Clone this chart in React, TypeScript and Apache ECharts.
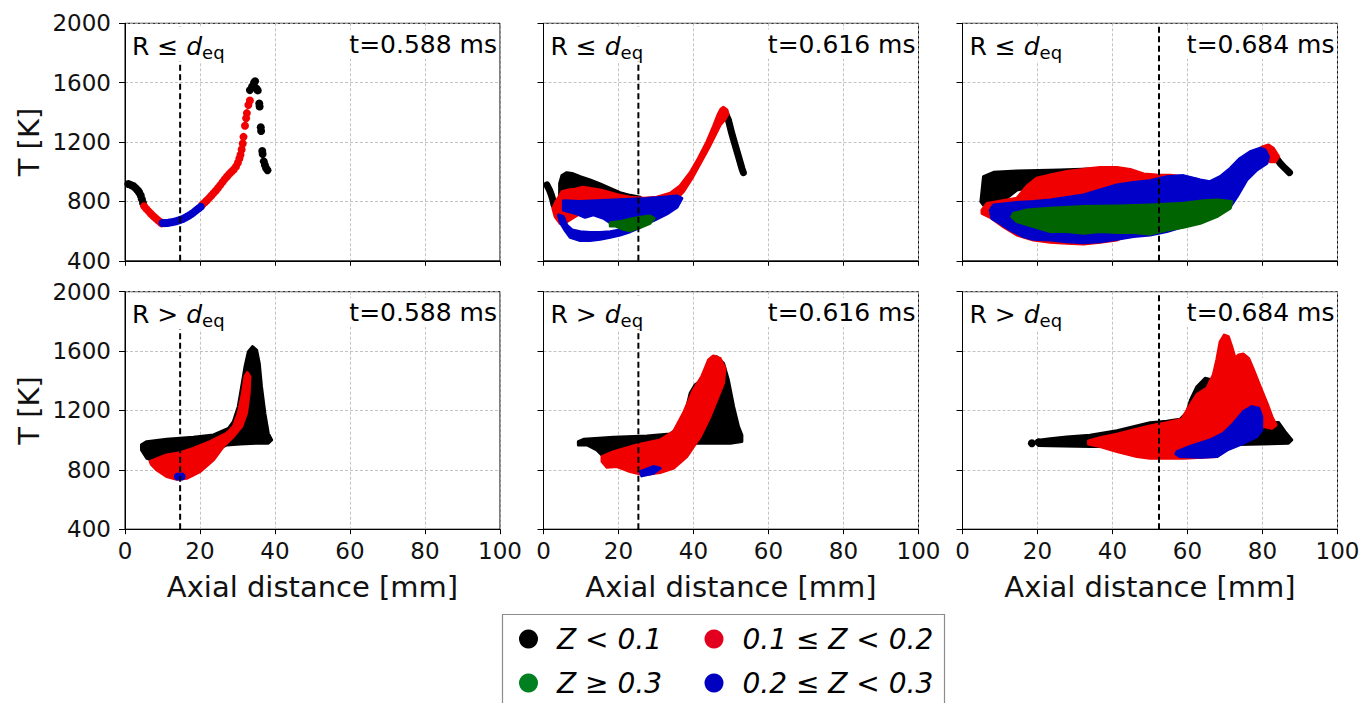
import React, { useEffect, useRef } from "react";
import * as echarts from "echarts";

// ---------- categories / colours ----------
const CATS = ["Z < 0.1", "0.1 ≤ Z < 0.2", "0.2 ≤ Z < 0.3", "Z ≥ 0.3"];
const PLOT_COLORS = ["#000000", "#f00000", "#0000c8", "#006400"];
const LEGEND_COLORS = ["#000000", "#e2001e", "#0000c0", "#008020"];
const LEGEND_COL1 = [0, 3];
const LEGEND_COL2 = [1, 2];

// ---------- panel labels ----------
const TIMES = ["t=0.588 ms", "t=0.616 ms", "t=0.684 ms"];
const REGIONS = ["≤", ">"];
const D_EQ = [14.7, 25.3, 52.4];

// ---------- axes ----------
const X_MIN = 0, X_MAX = 100, X_STEP = 20;
const Y_MIN = 400, Y_MAX = 2000, Y_STEP = 400;
const X_NAME = "Axial distance [mm]";
const Y_NAME = "T [K]";

// ---------- data: [axial distance mm, T K] ----------
// Panel 1: top-left (R ≤ deq, t=0.588 ms)
const P1_BLACK = [[0.9,917],[1.6,910],[2.2,904],[2.7,893],[3.1,882],[3.5,872],[3.8,860],[4.2,840],[4.5,815],[4.8,790],
  [33.3,1550],[33.9,1575],[34.4,1600],[34.7,1610],[35.1,1560],[35.4,1548],[35.8,1460],[35.9,1440],[36.2,1300],[36.3,1275],
  [36.6,1140],[36.7,1120],[37.0,1070],[37.3,1045],[37.6,1025],[38.0,1010]];
const P1_RED = [[5.1,768],[5.7,750],[6.3,733],[6.9,717],[7.5,702],[8.1,688],[8.7,675],[9.3,663],[9.8,652],
  [20.6,778],[21.2,792],[21.8,806],[22.4,822],[23.0,838],[23.6,855],[24.2,872],[24.8,890],[25.4,910],[26.0,930],[26.6,950],
  [27.2,968],[27.8,985],[28.4,1000],[29.0,1015],[29.6,1035],[30.1,1060],[30.5,1090],[30.8,1115],[31.1,1150],[31.4,1190],
  [31.6,1235],[32.0,1310],[32.3,1360],[32.5,1395],[32.9,1450],[33.3,1480]];
const P1_BLUE = [[10.0,655],[10.6,654],[11.2,655],[11.8,657],[12.4,660],[13.0,663],[13.6,667],[14.2,671],[14.8,676],[15.4,682],
  [16.0,690],[16.6,698],[17.2,707],[17.8,717],[18.4,728],[19.0,740],[19.6,752],[20.2,764]];

// Panel 2: top-middle (R ≤ deq, t=0.616 ms)
const P2_BLACK_AREA = [[4.3,922],[4.9,974],[6.2,994],[7.6,989],[9.8,967],[12.4,945],[15.1,918],[17.8,888],[20.4,859],[23.1,841],
  [25.8,828],[25.8,787],[14.2,776],[7.1,799],[4.9,810],[4.3,843]];
const P2_BLACK_LEFT = [[0.9,911],[1.6,877],[2.1,843],[2.5,810],[2.8,776]];
const P2_BLACK_TAIL = [[48.3,1405],[49.3,1349],[50.2,1259],[51.1,1180],[52.0,1102],[52.9,1023],[53.3,994]];
const P2_RED_AREA = [[4.9,866],[6.7,877],[8.4,882],[10.2,895],[12.4,888],[15.1,877],[17.8,859],[20.4,841],[23.1,828],[26.7,821],
  [30.2,828],[33.8,855],[36.4,904],[39.1,994],[41.3,1090],[43.6,1203],[45.3,1304],[46.5,1382],[47.3,1421],[48.0,1434],
  [48.9,1416],[49.2,1389],[48.4,1353],[47.1,1315],[45.8,1248],[44.0,1158],[41.8,1057],[39.6,956],[37.3,866],[35.6,821],
  [32.0,787],[23.1,754],[14.2,731],[9.8,720],[6.2,664],[4.4,653],[3.1,697],[2.5,754],[3.1,787],[4.4,843]];
const P2_BLUE_UPPER = [[5.3,805],[9.8,799],[14.2,805],[18.7,810],[23.1,814],[27.6,819],[32.0,828],[35.6,837],[36.9,821],[35.6,760],
  [32.9,716],[29.3,671],[25.8,635],[22.2,619],[18.7,641],[16.0,686],[13.3,709],[11.1,693],[8.9,716],[6.7,731],[5.3,742]];
const P2_BLUE_LOWER = [[4.0,709],[4.6,653],[5.8,603],[7.1,558],[9.8,536],[12.4,536],[15.1,545],[17.8,558],[20.4,574],[23.1,596],
  [25.8,626],[25.8,653],[23.1,626],[20.4,608],[17.8,596],[15.1,590],[12.4,590],[9.8,596],[7.6,608],[6.2,641],[5.3,697]];
const P2_GREEN_AREA = [[17.8,657],[20.4,664],[23.1,680],[25.8,693],[28.4,702],[29.5,686],[28.4,653],[25.8,626],[23.1,603],
  [21.3,612],[19.1,635],[17.8,635]];

// Panel 3: top-right (R ≤ deq, t=0.684 ms)
const P3_BLACK_AREA = [[4.9,799],[5.6,967],[8.3,996],[14.5,1005],[26.0,1012],[37.6,1021],[39.4,989],[23.4,922],[14.5,877],
  [10.0,787],[5.6,776]];
const P3_BLACK_TAIL = [[83.4,1102],[84.7,1057],[86.0,1023],[87.2,994]];
const P3_RED_AREA = [[5.2,742],[6.5,787],[14.5,821],[17.2,904],[19.8,956],[23.4,978],[27.8,1001],[32.3,1016],[36.7,1028],
  [41.2,1028],[44.7,1016],[48.3,985],[51.8,978],[55.4,976],[58.9,967],[62.5,949],[64.3,933],[58.9,832],[50.0,653],[41.2,540],
  [36.7,525],[32.3,513],[27.8,518],[23.4,525],[18.9,540],[14.5,574],[10.9,630],[7.4,693],[5.2,720]];
const P3_RED_PEAK = [[79.8,1165],[81.6,1180],[82.9,1158],[84.3,1102],[83.4,1068],[82.0,1068],[80.7,1102]];
const P3_BLUE_AREA = [[8.3,776],[14.5,792],[18.9,799],[23.4,810],[32.3,843],[36.7,877],[41.2,911],[45.6,928],[50.0,940],
  [54.5,967],[58.9,974],[63.4,945],[66.0,933],[68.7,967],[71.4,1023],[74.0,1090],[76.7,1135],[79.4,1158],[80.7,1147],
  [81.6,1102],[81.2,1057],[78.5,1012],[75.8,945],[73.2,832],[71.4,765],[67.8,720],[63.4,675],[58.9,630],[54.5,597],
  [50.0,574],[45.6,563],[41.2,545],[36.7,529],[32.3,522],[27.8,529],[23.4,540],[18.9,545],[16.3,563],[12.7,608],
  [10.0,653],[7.8,686],[7.4,742]];
const P3_GREEN_AREA = [[13.6,720],[17.2,742],[23.4,754],[32.3,765],[41.2,769],[50.0,776],[58.9,787],[64.3,805],[67.8,810],
  [71.8,799],[71.4,754],[67.8,697],[63.4,653],[58.9,626],[54.5,608],[50.0,581],[45.6,590],[41.2,590],[36.7,597],[32.3,585],
  [27.8,597],[23.4,597],[18.9,630],[14.5,664],[13.1,697]];

// Panel 4: bottom-left (R > deq, t=0.588 ms)
const P4_BLACK_AREA = [[4.4,968],[5.8,990],[11.1,1006],[18.2,1019],[23.6,1035],[27.6,1080],[28.9,1125],[30.2,1226],[31.1,1360],
  [32.0,1495],[32.9,1596],[34.0,1630],[35.1,1607],[35.8,1518],[36.4,1360],[37.3,1181],[38.2,1046],[39.1,1001],[38.2,979],
  [35.1,979],[30.7,974],[27.1,968],[22.7,912],[15.6,867],[8.4,856],[5.8,878],[4.4,934]];
const P4_RED_AREA = [[6.7,856],[11.1,900],[14.7,916],[18.2,945],[22.7,990],[27.1,1046],[28.9,1091],[30.2,1181],[31.3,1316],
  [32.0,1428],[32.6,1455],[33.3,1428],[33.1,1316],[32.4,1181],[31.1,1091],[28.9,1024],[26.2,957],[23.6,867],[20.0,788],
  [16.4,743],[13.8,737],[11.1,755],[8.4,800],[7.1,834]];
const P4_BLUE = [[14.1,755],[15.1,755]];

// Panel 5: bottom-middle (R > deq, t=0.616 ms)
const P5_BLACK_AREA = [[9.3,990],[10.7,1006],[18.7,1019],[27.6,1028],[33.8,1042],[36.4,1091],[37.8,1181],[39.1,1316],[40.4,1372],
  [42.2,1405],[43.1,1461],[44.9,1551],[46.2,1562],[48.0,1518],[49.3,1405],[50.7,1226],[52.0,1091],[52.9,1035],[52.9,990],
  [49.8,979],[40.9,979],[36.4,968],[23.1,968],[16.0,889],[14.2,934],[11.6,968],[9.3,968]];
const P5_RED_AREA = [[15.6,889],[18.7,923],[24.9,968],[31.1,1001],[34.7,1058],[37.3,1181],[40.0,1338],[42.2,1428],[44.0,1540],
  [45.3,1567],[47.1,1551],[48.4,1484],[48.0,1383],[46.2,1271],[44.4,1159],[41.8,1024],[38.2,889],[34.7,811],[31.1,782],
  [26.7,766],[23.1,788],[19.6,822],[16.9,818],[15.6,856]];
const P5_BLUE_AREA = [[25.8,788],[29.3,822],[31.1,811],[29.3,777],[26.2,759]];

// Panel 6: bottom-right (R > deq, t=0.684 ms)
const P6_BLACK_AREA = [[19.8,997],[23.4,1010],[27.8,1021],[34.0,1033],[41.2,1064],[45.6,1091],[50.0,1118],[54.5,1127],[58.0,1141],
  [59.8,1185],[60.8,1271],[62.5,1360],[64.7,1417],[66.5,1405],[67.8,1383],[72.3,1226],[76.7,1114],[84.3,1118],[86.0,1057],
  [87.8,1001],[86.9,979],[67.8,968],[50.0,957],[34.0,957],[23.4,962],[20.3,964]];
const P6_BLACK = [[18.5,979],[20.3,985]];
const P6_RED_AREA = [[33.6,995],[36.7,1017],[41.2,1040],[45.6,1069],[50.0,1096],[54.5,1118],[58.5,1141],[60.3,1219],[62.5,1307],
  [65.2,1352],[66.9,1441],[67.8,1540],[68.7,1663],[69.8,1708],[70.9,1697],[71.8,1630],[72.7,1551],[73.6,1574],[74.9,1580],
  [76.3,1551],[77.6,1473],[79.4,1360],[81.2,1248],[82.5,1159],[83.6,1102],[82.5,1080],[80.3,1091],[76.7,1024],[72.3,968],
  [67.8,889],[58.9,878],[50.0,878],[46.5,889],[41.2,923],[36.7,957],[33.6,974]];
const P6_BLUE_AREA = [[57.2,923],[60.7,957],[66.0,1001],[69.6,1046],[72.3,1114],[74.9,1192],[77.2,1226],[79.0,1215],[79.8,1159],
  [79.8,1069],[78.5,1024],[74.9,979],[70.6,934],[67.8,889],[63.4,885],[58.0,889],[56.9,907]];

type Kind = "dots" | "area" | "trace";
type Layer = { panel: number; cat: number; kind: Kind; pts: number[][] };

const LAYERS: Layer[] = [
  { panel: 0, cat: 0, kind: "dots", pts: P1_BLACK },
  { panel: 0, cat: 1, kind: "dots", pts: P1_RED },
  { panel: 0, cat: 2, kind: "dots", pts: P1_BLUE },
  { panel: 1, cat: 0, kind: "area", pts: P2_BLACK_AREA },
  { panel: 1, cat: 0, kind: "trace", pts: P2_BLACK_LEFT },
  { panel: 1, cat: 0, kind: "trace", pts: P2_BLACK_TAIL },
  { panel: 1, cat: 1, kind: "area", pts: P2_RED_AREA },
  { panel: 1, cat: 2, kind: "area", pts: P2_BLUE_UPPER },
  { panel: 1, cat: 2, kind: "area", pts: P2_BLUE_LOWER },
  { panel: 1, cat: 3, kind: "area", pts: P2_GREEN_AREA },
  { panel: 2, cat: 0, kind: "area", pts: P3_BLACK_AREA },
  { panel: 2, cat: 0, kind: "trace", pts: P3_BLACK_TAIL },
  { panel: 2, cat: 1, kind: "area", pts: P3_RED_AREA },
  { panel: 2, cat: 1, kind: "area", pts: P3_RED_PEAK },
  { panel: 2, cat: 2, kind: "area", pts: P3_BLUE_AREA },
  { panel: 2, cat: 3, kind: "area", pts: P3_GREEN_AREA },
  { panel: 3, cat: 0, kind: "area", pts: P4_BLACK_AREA },
  { panel: 3, cat: 1, kind: "area", pts: P4_RED_AREA },
  { panel: 3, cat: 2, kind: "dots", pts: P4_BLUE },
  { panel: 4, cat: 0, kind: "area", pts: P5_BLACK_AREA },
  { panel: 4, cat: 1, kind: "area", pts: P5_RED_AREA },
  { panel: 4, cat: 2, kind: "area", pts: P5_BLUE_AREA },
  { panel: 5, cat: 0, kind: "area", pts: P6_BLACK_AREA },
  { panel: 5, cat: 0, kind: "dots", pts: P6_BLACK },
  { panel: 5, cat: 1, kind: "area", pts: P6_RED_AREA },
  { panel: 5, cat: 2, kind: "area", pts: P6_BLUE_AREA },
];

// ---------- layout ----------
const FONT = "'DejaVu Sans', 'Noto Sans', sans-serif";
const GRID_LEFTS = [125, 543.5, 962.5];
const GRID_TOPS = [23.3, 291.7];
const GRID_W = 375;
const GRID_H = 237.5;

function buildOption() {
  const grids: any[] = [];
  const xAxes: any[] = [];
  const yAxes: any[] = [];
  const series: any[] = [];
  const graphics: any[] = [];
  const plain = (v: number) => String(v);

  for (let p = 0; p < 6; p++) {
    const row = Math.floor(p / 3);
    const col = p % 3;
    const left = GRID_LEFTS[col];
    const top = GRID_TOPS[row];
    grids.push({ left, top, width: GRID_W, height: GRID_H, show: true, borderColor: "#000", borderWidth: 1, backgroundColor: "transparent" });
    xAxes.push({
      gridIndex: p, type: "value", min: X_MIN, max: X_MAX, interval: X_STEP,
      axisLine: { show: true, onZero: false, lineStyle: { color: "#000", width: 1 } },
      axisTick: { show: true, length: 5, lineStyle: { color: "#000", width: 1 } },
      axisLabel: { show: row === 1, fontSize: 23, color: "#111", margin: 10, fontFamily: FONT, formatter: plain },
      splitLine: { show: true, lineStyle: { color: "#b4b4b4", type: [3, 2], width: 0.8 } },
      name: row === 1 ? X_NAME : "", nameLocation: "middle", nameGap: 43,
      nameTextStyle: { fontSize: 29, color: "#111", fontFamily: FONT },
    });
    yAxes.push({
      gridIndex: p, type: "value", min: Y_MIN, max: Y_MAX, interval: Y_STEP,
      axisLine: { show: true, onZero: false, lineStyle: { color: "#000", width: 1 } },
      axisTick: { show: true, length: 6, lineStyle: { color: "#000", width: 1 } },
      axisLabel: { show: col === 0, fontSize: 23, color: "#111", margin: 14, fontFamily: FONT, formatter: plain },
      splitLine: { show: true, lineStyle: { color: "#b4b4b4", type: [3, 2], width: 0.8 } },
      name: col === 0 ? Y_NAME : "", nameLocation: "middle", nameGap: 82,
      nameTextStyle: { fontSize: 29, color: "#111", fontFamily: FONT },
    });

    // annotations (white boxes hide grid / dashed lines behind them)
    graphics.push({
      type: "text", x: left + 5, y: top + 20.7, z: 100,
      style: {
        text: `R ${REGIONS[row]} {d|d}{s|eq}`,
        fill: "#000", fontSize: 25, fontFamily: FONT, lineHeight: 30,
        textAlign: "left", textVerticalAlign: "middle",
        backgroundColor: "#fff", padding: [4.3, 2, 0, 2],
        rich: {
          d: { fontSize: 25, fontStyle: "italic", fontFamily: FONT, lineHeight: 30, fill: "#000" },
          s: { fontSize: 18, fontFamily: FONT, verticalAlign: "bottom", lineHeight: 18, fill: "#000" },
        },
      },
    });
    graphics.push({
      type: "text", x: left + GRID_W - 1, y: top + 20.7, z: 100,
      style: {
        text: TIMES[col], fill: "#000", fontSize: 25, fontFamily: FONT,
        textAlign: "right", textVerticalAlign: "middle",
        backgroundColor: "#fff", padding: [2, 2, 2, 2],
      },
    });
  }

  LAYERS.forEach((L) => {
    const color = PLOT_COLORS[L.cat];
    const base = { name: CATS[L.cat], xAxisIndex: L.panel, yAxisIndex: L.panel, silent: true, itemStyle: { color, opacity: 1 } };
    if (L.kind === "dots") {
      series.push({ ...base, type: "scatter", data: L.pts, symbolSize: 8 });
    } else {
      const pts = L.pts;
      series.push({
        ...base, type: "custom", clip: true, data: pts,
        renderItem: (params: any, api: any) => {
          if (params.dataIndex !== 0) return null;
          const points = pts.map((q) => api.coord(q));
          if (L.kind === "area") {
            return { type: "polygon", shape: { points }, style: { fill: color, stroke: color, lineWidth: 3, lineJoin: "round" } };
          }
          return { type: "polyline", shape: { points }, style: { fill: null, stroke: color, lineWidth: 7, lineJoin: "round", lineCap: "round" } };
        },
      });
    }
  });

  // dashed d_eq lines
  for (let p = 0; p < 6; p++) {
    const d = D_EQ[p % 3];
    series.push({
      name: "d_eq", type: "line", xAxisIndex: p, yAxisIndex: p, silent: true, z: 5,
      data: [[d, Y_MIN], [d, Y_MAX]], symbol: "none",
      lineStyle: { color: "#000", width: 2, type: [6, 3.5] },
    });
  }

  // legend box
  graphics.push({
    type: "rect", z: 1,
    shape: { x: 502.5, y: 614.5, width: 442, height: 100 },
    style: { fill: "#fff", stroke: "#8c8c8c", lineWidth: 1.2 },
  });

  const legendBase = {
    orient: "vertical", top: 624, padding: 0, icon: "circle", itemWidth: 19, itemHeight: 19, itemGap: 14, z: 20,
    selectedMode: false,
    textStyle: { fontSize: 28, fontStyle: "italic", fontFamily: FONT, color: "#000", lineHeight: 30, padding: [0, 0, 0, 14] },
  };

  return {
    animation: false,
    backgroundColor: "#fff",
    textStyle: { fontFamily: FONT },
    grid: grids,
    xAxis: xAxes,
    yAxis: yAxes,
    series,
    graphic: { elements: graphics },
    legend: [
      { ...legendBase, left: 519, data: LEGEND_COL1.map((i) => ({ name: CATS[i], itemStyle: { color: LEGEND_COLORS[i], opacity: 1 } })) },
      { ...legendBase, left: 704.5, data: LEGEND_COL2.map((i) => ({ name: CATS[i], itemStyle: { color: LEGEND_COLORS[i], opacity: 1 } })) },
    ],
  };
}

export default function App() {
  const ref = useRef<HTMLDivElement | null>(null);
  useEffect(() => {
    if (!ref.current) return;
    const chart = echarts.init(ref.current, undefined, { renderer: "svg" });
    chart.setOption(buildOption() as any);
    return () => chart.dispose();
  }, []);
  return <div ref={ref} style={{ position: "absolute", left: 0, top: 0, width: 1363, height: 703 }} />;
}
